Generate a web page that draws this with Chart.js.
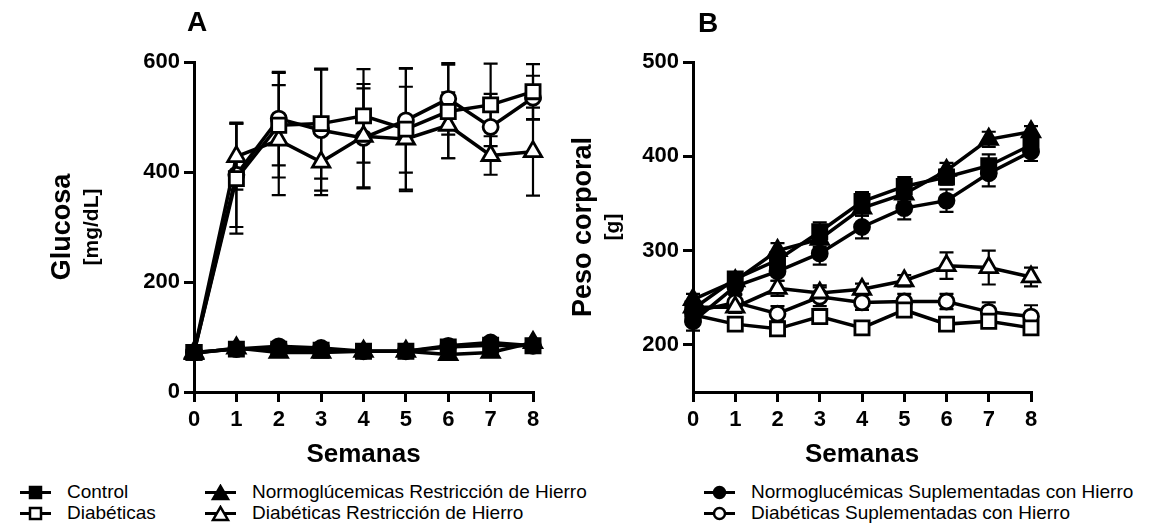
<!DOCTYPE html>
<html>
<head>
<meta charset="utf-8">
<script src="https://cdn.jsdelivr.net/npm/chart.js@4"></script>
<style>
  html, body { margin: 0; padding: 0; background: #fff; }
  body { width: 1174px; height: 527px; position: relative; overflow: hidden; font-family: Arial, 'Liberation Sans', sans-serif; }
  .panel { position: absolute; top: 0; height: 480px; }
  #boxA { left: 0; width: 560px; }
  #boxB { left: 540px; width: 540px; }
  .leg { position: absolute; display: flex; align-items: center; font-size: 19px; line-height: 20px; color: #000; white-space: nowrap; }
  .leg svg { margin-right: 16px; }
</style>
</head>
<body>
<div class="panel" id="boxA"><canvas id="chartA"></canvas></div>
<div class="panel" id="boxB"><canvas id="chartB"></canvas></div>
<div id="legend"></div>
<script>
/* ── Data ── */
const weeks = [0, 1, 2, 3, 4, 5, 6, 7, 8];

// A: glucosa [mg/dL]
const glcTicks = [0, 200, 400, 600];
const glcControl = [72, 78, 78, 76, 74, 74, 82, 85, 84];
const glcDiab    = [72, 388, 485, 488, 502, 478, 510, 522, 546];
const glcNRH     = [70, 80, 72, 72, 74, 74, 68, 72, 90];
const glcDRH     = [72, 428, 458, 418, 465, 460, 485, 430, 437];
const glcNSH     = [72, 78, 83, 80, 74, 74, 84, 90, 84];
const glcDSH     = [72, 395, 497, 476, 462, 494, 533, 482, 535];
const glcControlErr = [4, 5, 6, 6, 5, 5, 6, 6, 6];
const glcDiabErr    = [4, 100, 95, 100, 85, 110, 85, 75, 50];
const glcNRHErr     = [4, 5, 5, 5, 5, 5, 6, 6, 6];
const glcDRHErr     = [4, 60, 100, 60, 95, 95, 60, 35, 80];
const glcNSHErr     = [4, 5, 6, 6, 5, 5, 6, 6, 6];
const glcDSHErr     = [4, 95, 85, 110, 90, 95, 65, 60, 40];

// B: peso corporal [g]
const pesoTicks = [200, 300, 400, 500];
const pesoControl = [238, 270, 290, 320, 352, 368, 378, 390, 412];
const pesoDiab    = [232, 222, 217, 230, 218, 237, 222, 225, 218];
const pesoNRH     = [248, 268, 300, 312, 345, 360, 385, 418, 426];
const pesoDRH     = [240, 240, 260, 255, 259, 268, 284, 282, 272];
const pesoNSH     = [225, 262, 278, 297, 325, 345, 353, 382, 405];
const pesoDSH     = [235, 245, 233, 251, 245, 246, 246, 235, 230];
const pesoControlErr = [8, 6, 8, 10, 10, 10, 8, 12, 8];
const pesoDiabErr    = [6, 5, 5, 6, 5, 5, 5, 6, 6];
const pesoNRHErr     = [6, 6, 8, 8, 8, 8, 8, 8, 6];
const pesoDRHErr     = [6, 6, 8, 8, 6, 6, 14, 18, 10];
const pesoNSHErr     = [10, 8, 10, 12, 12, 12, 12, 14, 10];
const pesoDSHErr     = [8, 8, 8, 10, 8, 8, 8, 10, 12];

const groups = [
  { label: 'Control', style: 'rect', filled: true },
  { label: 'Diabéticas', style: 'rect', filled: false },
  { label: 'Normoglúcemicas Restricción de Hierro', style: 'triangle', filled: true },
  { label: 'Diabéticas Restricción de Hierro', style: 'triangle', filled: false },
  { label: 'Normoglucémicas Suplementadas con Hierro', style: 'circle', filled: true },
  { label: 'Diabéticas Suplementadas con Hierro', style: 'circle', filled: false }
];

const FONT = "Arial, 'Liberation Sans', sans-serif";
const RADIUS = { rect: 10, triangle: 10, circle: 7.5 };

/* ── Helpers ── */
function ds(g, vals, err) {
  return {
    label: g.label,
    data: weeks.map((w, i) => ({ x: w, y: vals[i] })),
    err,
    borderColor: '#000',
    borderWidth: 3.5,
    pointStyle: g.style,
    pointRadius: RADIUS[g.style],
    pointBorderWidth: 2.8,
    pointBorderColor: '#000',
    pointBackgroundColor: g.filled ? '#000' : '#fff',
    tension: 0,
    clip: false
  };
}

const errorBars = {
  id: 'errorBars',
  beforeDatasetsDraw(chart) {
    const ctx = chart.ctx, y = chart.scales.y;
    ctx.save();
    ctx.strokeStyle = '#000';
    ctx.lineWidth = 2.2;
    chart.data.datasets.forEach((d, i) => {
      const meta = chart.getDatasetMeta(i);
      d.data.forEach((p, j) => {
        const e = d.err[j];
        if (!e) return;
        const x = meta.data[j].x;
        const y1 = y.getPixelForValue(p.y + e), y2 = y.getPixelForValue(p.y - e);
        ctx.beginPath();
        ctx.moveTo(x, y1); ctx.lineTo(x, y2);
        ctx.moveTo(x - 7, y1); ctx.lineTo(x + 7, y1);
        ctx.moveTo(x - 7, y2); ctx.lineTo(x + 7, y2);
        ctx.stroke();
      });
    });
    ctx.restore();
  }
};

const panelText = {
  id: 'panelText',
  afterDraw(chart, args, o) {
    const ctx = chart.ctx;
    ctx.save();
    ctx.fillStyle = '#000';
    ctx.textAlign = 'center';
    ctx.textBaseline = 'middle';
    ctx.font = 'bold 28px ' + FONT;
    ctx.fillText(o.letter, o.letterX, o.letterY);
    const cy = (chart.chartArea.top + chart.chartArea.bottom) / 2;
    ctx.translate(o.titleX, cy);
    ctx.rotate(-Math.PI / 2);
    ctx.font = 'bold 27px ' + FONT;
    ctx.fillText(o.title, 0, 0);
    ctx.font = 'bold 21px ' + FONT;
    ctx.fillText(o.unit, 0, o.unitDy);
    ctx.restore();
  }
};

function makeChart(id, sets, yMin, yMax, yTicks, yWidth, padRight, text) {
  return new Chart(document.getElementById(id), {
    type: 'line',
    data: { datasets: sets },
    plugins: [errorBars, panelText],
    options: {
      responsive: true,
      maintainAspectRatio: false,
      animation: false,
      layout: { padding: { top: 62, right: padRight, left: 0, bottom: 0 } },
      plugins: { legend: { display: false }, tooltip: { enabled: false }, panelText: text },
      scales: {
        x: {
          type: 'linear', min: 0, max: 8,
          afterFit: s => { s.height = 88; },
          afterBuildTicks: s => { s.ticks = weeks.map(v => ({ value: v })); },
          border: { color: '#000', width: 3 },
          grid: { drawOnChartArea: false, color: '#000', lineWidth: 3, tickLength: 10 },
          ticks: { color: '#000', padding: 5, font: { family: FONT, size: 22, weight: 'bold' } },
          title: { display: true, text: 'Semanas', color: '#000', padding: { top: 0, bottom: 10 },
                   font: { family: FONT, size: 26, weight: 'bold' } }
        },
        y: {
          min: yMin, max: yMax,
          afterFit: s => { s.width = yWidth; },
          afterBuildTicks: s => { s.ticks = yTicks.map(v => ({ value: v })); },
          border: { color: '#000', width: 3 },
          grid: { drawOnChartArea: false, color: '#000', lineWidth: 3, tickLength: 10 },
          ticks: { color: '#000', padding: 4, font: { family: FONT, size: 22, weight: 'bold' } }
        }
      }
    }
  });
}

makeChart('chartA', [
  ds(groups[0], glcControl, glcControlErr),
  ds(groups[2], glcNRH, glcNRHErr),
  ds(groups[4], glcNSH, glcNSHErr),
  ds(groups[1], glcDiab, glcDiabErr),
  ds(groups[3], glcDRH, glcDRHErr),
  ds(groups[5], glcDSH, glcDSHErr)
], 0, 600, glcTicks, 194, 27,
  { letter: 'A', letterX: 197, letterY: 23, title: 'Glucosa', unit: '[mg/dL]', titleX: 63, unitDy: 29 });

makeChart('chartB', [
  ds(groups[0], pesoControl, pesoControlErr),
  ds(groups[2], pesoNRH, pesoNRHErr),
  ds(groups[4], pesoNSH, pesoNSHErr),
  ds(groups[1], pesoDiab, pesoDiabErr),
  ds(groups[3], pesoDRH, pesoDRHErr),
  ds(groups[5], pesoDSH, pesoDSHErr)
], 150, 500, pesoTicks, 153, 49,
  { letter: 'B', letterX: 168, letterY: 24, title: 'Peso corporal', unit: '[g]', titleX: 44, unitDy: 29 });

/* ── Legend ── */
function marker(g) {
  const f = g.filled ? '#000' : '#fff';
  let shape;
  if (g.style === 'rect') shape = `<rect x="10" y="3" width="11" height="11" fill="${f}" stroke="#000" stroke-width="2.5"/>`;
  else if (g.style === 'triangle') shape = `<polygon points="15.5,2 23,15 8,15" fill="${f}" stroke="#000" stroke-width="2.5"/>`;
  else shape = `<circle cx="15.5" cy="8.5" r="5.5" fill="${f}" stroke="#000" stroke-width="2.5"/>`;
  return `<svg width="31" height="17"><line x1="0" y1="8.5" x2="31" y2="8.5" stroke="#000" stroke-width="3"/>${shape}</svg>`;
}
const legPos = [[20, 482], [20, 503], [205, 482], [205, 503], [704, 482], [704, 503]];
document.getElementById('legend').innerHTML = groups.map((g, i) =>
  `<div class="leg" style="left:${legPos[i][0]}px;top:${legPos[i][1]}px">${marker(g)}<span>${g.label}</span></div>`
).join('');
</script>
</body>
</html>
